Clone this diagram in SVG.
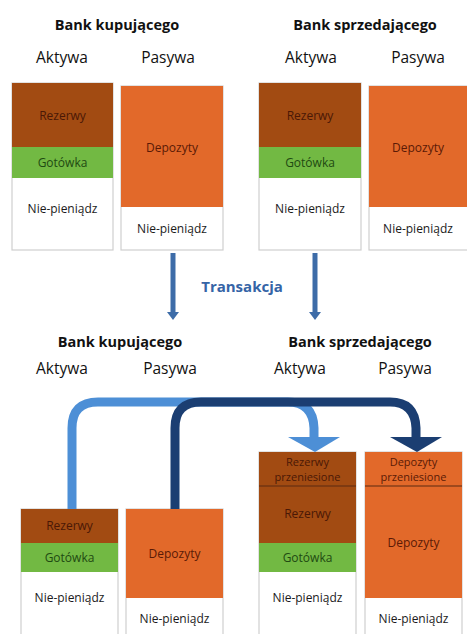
<svg xmlns="http://www.w3.org/2000/svg" width="467" height="634" viewBox="0 0 467 634">
<style>
.h{font-family:"Open Sans","Liberation Sans",sans-serif;font-weight:bold;font-size:14.5px;fill:#111;text-anchor:middle}
.c{font-family:"Open Sans","Liberation Sans",sans-serif;font-size:15.5px;fill:#111;text-anchor:middle}
.t{font-family:"Open Sans","Liberation Sans",sans-serif;font-size:12px;text-anchor:middle}
.s{font-size:11px}
.rz{fill:#a24b12}
.gt{fill:#72b943}
.dp{fill:#e2692a}
.wh{fill:#fff;stroke:#cfcfcf;stroke-width:1.2}
.rzt{fill:#4a1806}
.gtt{fill:#1f4a12}
.dpt{fill:#5a1a06}
.nt{fill:#1a1a1a}
.div{stroke:#5a2a10;stroke-width:1}
</style>
<rect width="467" height="634" fill="#fff"/>

<!-- Top headings -->
<text class="h" x="117" y="30">Bank kupującego</text>
<text class="h" x="365" y="30">Bank sprzedającego</text>
<text class="c" x="62" y="63">Aktywa</text>
<text class="c" x="168" y="63">Pasywa</text>
<text class="c" x="311" y="63">Aktywa</text>
<text class="c" x="418" y="63">Pasywa</text>

<g id="top-buyer-assets">
<rect class="wh" x="12" y="83" width="101" height="167"/>
<rect class="rz" x="12" y="83" width="101" height="64"/>
<rect class="gt" x="12" y="147" width="101" height="31"/>
<text class="t rzt" x="62.5" y="120">Rezerwy</text>
<text class="t gtt" x="62.5" y="167">Gotówka</text>
<text class="t nt" x="62.5" y="213">Nie-pieniądz</text>
</g>
<g id="top-buyer-liab">
<rect class="wh" x="121" y="86" width="102" height="164"/>
<rect class="dp" x="121" y="86" width="102" height="121"/>
<text class="t dpt" x="172" y="152">Depozyty</text>
<text class="t nt" x="172" y="233">Nie-pieniądz</text>
</g>
<g id="top-seller-assets">
<rect class="wh" x="259" y="83" width="102" height="167"/>
<rect class="rz" x="259" y="83" width="102" height="64"/>
<rect class="gt" x="259" y="147" width="102" height="31"/>
<text class="t rzt" x="310" y="120">Rezerwy</text>
<text class="t gtt" x="310" y="167">Gotówka</text>
<text class="t nt" x="310" y="213">Nie-pieniądz</text>
</g>
<g id="top-seller-liab">
<rect class="wh" x="369" y="86" width="102" height="164"/>
<rect class="dp" x="369" y="86" width="102" height="121"/>
<text class="t dpt" x="418" y="152">Depozyty</text>
<text class="t nt" x="418" y="233">Nie-pieniądz</text>
</g>

<g id="transakcja">
<text x="242" y="292" font-family="Open Sans, Liberation Sans, sans-serif" font-weight="bold" font-size="15px" fill="#3564a6" text-anchor="middle">Transakcja</text>
</g>

<!-- Bottom headings -->
<text class="h" x="120" y="347">Bank kupującego</text>
<text class="h" x="360" y="347">Bank sprzedającego</text>
<text class="c" x="62" y="374">Aktywa</text>
<text class="c" x="170" y="374">Pasywa</text>
<text class="c" x="300" y="374">Aktywa</text>
<text class="c" x="405" y="374">Pasywa</text>

<g id="bot-buyer-assets">
<rect class="wh" x="21" y="509" width="97" height="130"/>
<rect class="rz" x="21" y="509" width="97" height="34"/>
<rect class="gt" x="21" y="543" width="97" height="29"/>
<text class="t rzt" x="69.5" y="530">Rezerwy</text>
<text class="t gtt" x="69.5" y="562">Gotówka</text>
<text class="t nt" x="69.5" y="602">Nie-pieniądz</text>
</g>
<g id="bot-buyer-liab">
<rect class="wh" x="126" y="509" width="97" height="130"/>
<rect class="dp" x="126" y="509" width="97" height="89"/>
<text class="t dpt" x="174.5" y="558">Depozyty</text>
<text class="t nt" x="174.5" y="623">Nie-pieniądz</text>
</g>
<g id="bot-seller-assets">
<rect class="wh" x="259" y="452" width="97" height="187"/>
<rect class="rz" x="259" y="452" width="97" height="91"/>
<rect class="gt" x="259" y="543" width="97" height="29"/>
<line class="div" x1="259" y1="486" x2="356" y2="486"/>
<text class="t s rzt" x="307.5" y="465.5">Rezerwy</text>
<text class="t s rzt" x="307.5" y="481">przeniesione</text>
<text class="t rzt" x="307.5" y="518">Rezerwy</text>
<text class="t gtt" x="307.5" y="562">Gotówka</text>
<text class="t nt" x="307.5" y="602">Nie-pieniądz</text>
</g>
<g id="bot-seller-liab">
<rect class="wh" x="365" y="452" width="97" height="187"/>
<rect class="dp" x="365" y="452" width="97" height="146"/>
<line class="div" x1="365" y1="486" x2="462" y2="486"/>
<text class="t s dpt" x="413.5" y="465.5">Depozyty</text>
<text class="t s dpt" x="413.5" y="481">przeniesione</text>
<text class="t dpt" x="413.5" y="547">Depozyty</text>
<text class="t nt" x="413.5" y="623">Nie-pieniądz</text>
</g>

<g id="connectors">
<!-- top transaction arrows -->
<line x1="173" y1="253" x2="173" y2="313" stroke="#3d6ca8" stroke-width="5"/>
<polygon points="167,312 179,312 173,320" fill="#3d6ca8"/>
<line x1="315" y1="253" x2="315" y2="313" stroke="#3d6ca8" stroke-width="5"/>
<polygon points="309,312 321,312 315,320" fill="#3d6ca8"/>
<!-- reserves transfer -->
<path d="M72,509 V428 Q72,402 98,402 H288 Q313,402 314,428 V440" fill="none" stroke="#4d8fd6" stroke-width="9"/>
<polygon points="288,437 340,437 315,452" fill="#4d8fd6"/>
<!-- deposits transfer -->
<path d="M175,509 V428 Q175,402 201,402 H390 Q415,402 416,428 V440" fill="none" stroke="#1b3e72" stroke-width="9"/>
<polygon points="390,437 442,437 417,452" fill="#1b3e72"/>
</g>
</svg>
